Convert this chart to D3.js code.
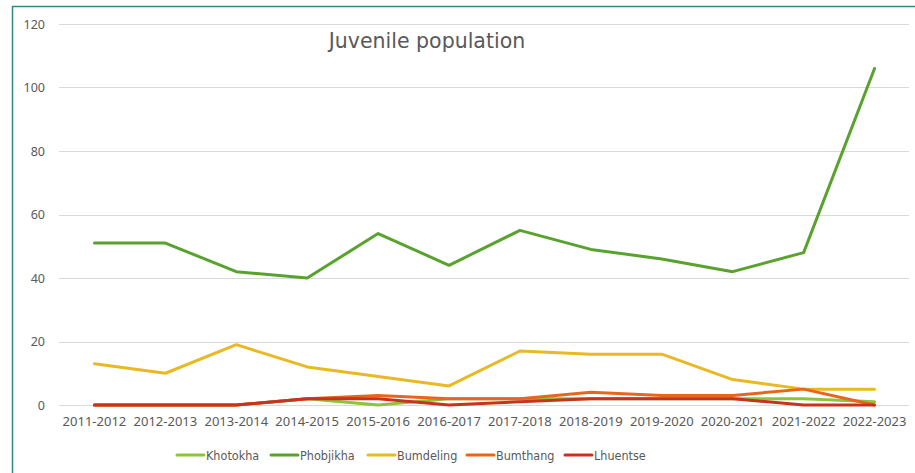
<!DOCTYPE html>
<html>
<head>
<meta charset="utf-8">
<script src="https://cdn.jsdelivr.net/npm/d3@7/dist/d3.min.js"></script>
<style>
html,body{margin:0;padding:0;background:#fff;}
svg{display:block;}
</style>
</head>
<body>
<svg id="chart" width="915" height="473"></svg>
<script>
const categories = ["2011-2012","2012-2013","2013-2014","2014-2015","2015-2016","2016-2017","2017-2018","2018-2019","2019-2020","2020-2021","2021-2022","2022-2023"];
const seriesNames = ["Khotokha","Phobjikha","Bumdeling","Bumthang","Lhuentse"];
const khotokha  = [0,0,0,2,0,2,2,2,2,2,2,1];
const phobjikha = [51,51,42,40,54,44,55,49,46,42,48,106];
const bumdeling = [13,10,19,12,9,6,17,16,16,8,5,5];
const bumthang  = [0,0,0,2,3,2,2,4,3,3,5,0];
const lhuentse  = [0,0,0,2,2,0,1,2,2,2,0,0];
const yTicks = [0,20,40,60,80,100,120];
const colors = ["#8cc43c","#5aa22e","#e9b923","#e8661c","#c9321f"];
const title = "Juvenile population";

const seriesValues = [khotokha, phobjikha, bumdeling, bumthang, lhuentse];

(function(){
const svg = d3.select("#chart");
const pLeft = 59, pRight = 910, pTop = 24, pBottom = 405;

svg.append("rect").attr("x",12.5).attr("y",6.5).attr("width",915).attr("height",480)
  .attr("fill","none").attr("stroke","#2e8b7e").attr("stroke-width",1.5);

const x = d3.scaleBand().domain(categories).range([pLeft,pRight]).padding(0);
const y = d3.scaleLinear().domain([0,120]).range([pBottom,pTop]);

svg.append("g").selectAll("line").data(yTicks).join("line")
  .attr("x1",pLeft).attr("x2",pRight-1)
  .attr("y1",d=>Math.round(y(d))+0.5).attr("y2",d=>Math.round(y(d))+0.5)
  .attr("stroke","#d9d9d9").attr("stroke-width",1);

const yAxis = d3.axisLeft(y).tickValues(yTicks).tickSize(0).tickPadding(14);
const gy = svg.append("g").attr("transform",`translate(${pLeft},0)`).call(yAxis);
gy.select(".domain").remove();
gy.selectAll("text").attr("font-family","'Noto Sans', 'Open Sans', sans-serif").attr("font-size",12.5).attr("fill","#595959");

const xAxis = d3.axisBottom(x).tickSize(0).tickPadding(12);
const gx = svg.append("g").attr("transform",`translate(0,${pBottom})`).call(xAxis);
gx.select(".domain").remove();
gx.selectAll("text").attr("font-family","'Noto Sans', 'Open Sans', sans-serif").attr("font-size",13).attr("fill","#595959");

const line = d3.line().x((d,i)=>x(categories[i])+x.bandwidth()/2).y(d=>y(d)).curve(d3.curveLinear);
seriesValues.forEach((vals,k)=>{
  svg.append("path").datum(vals).attr("d",line)
    .attr("fill","none").attr("stroke",colors[k]).attr("stroke-width",3)
    .attr("stroke-linejoin","round").attr("stroke-linecap","round");
});

svg.append("text").attr("x",427).attr("y",48).attr("text-anchor","middle")
  .attr("font-family","'DejaVu Sans', Verdana, sans-serif").attr("font-size",20.5)
  .attr("fill","#595959").text(title);

const legX = [177,271,368,467,565];
const lg = svg.append("g");
seriesNames.forEach((n,k)=>{
  lg.append("line").attr("x1",legX[k]).attr("x2",legX[k]+27).attr("y1",455).attr("y2",455)
    .attr("stroke",colors[k]).attr("stroke-width",3).attr("stroke-linecap","round");
  lg.append("text").attr("x",legX[k]+29).attr("y",460)
    .attr("font-family","'DejaVu Sans Condensed', 'DejaVu Sans', sans-serif").attr("font-size",12.5)
    .attr("fill","#595959").text(n);
});
})();
</script>
</body>
</html>
